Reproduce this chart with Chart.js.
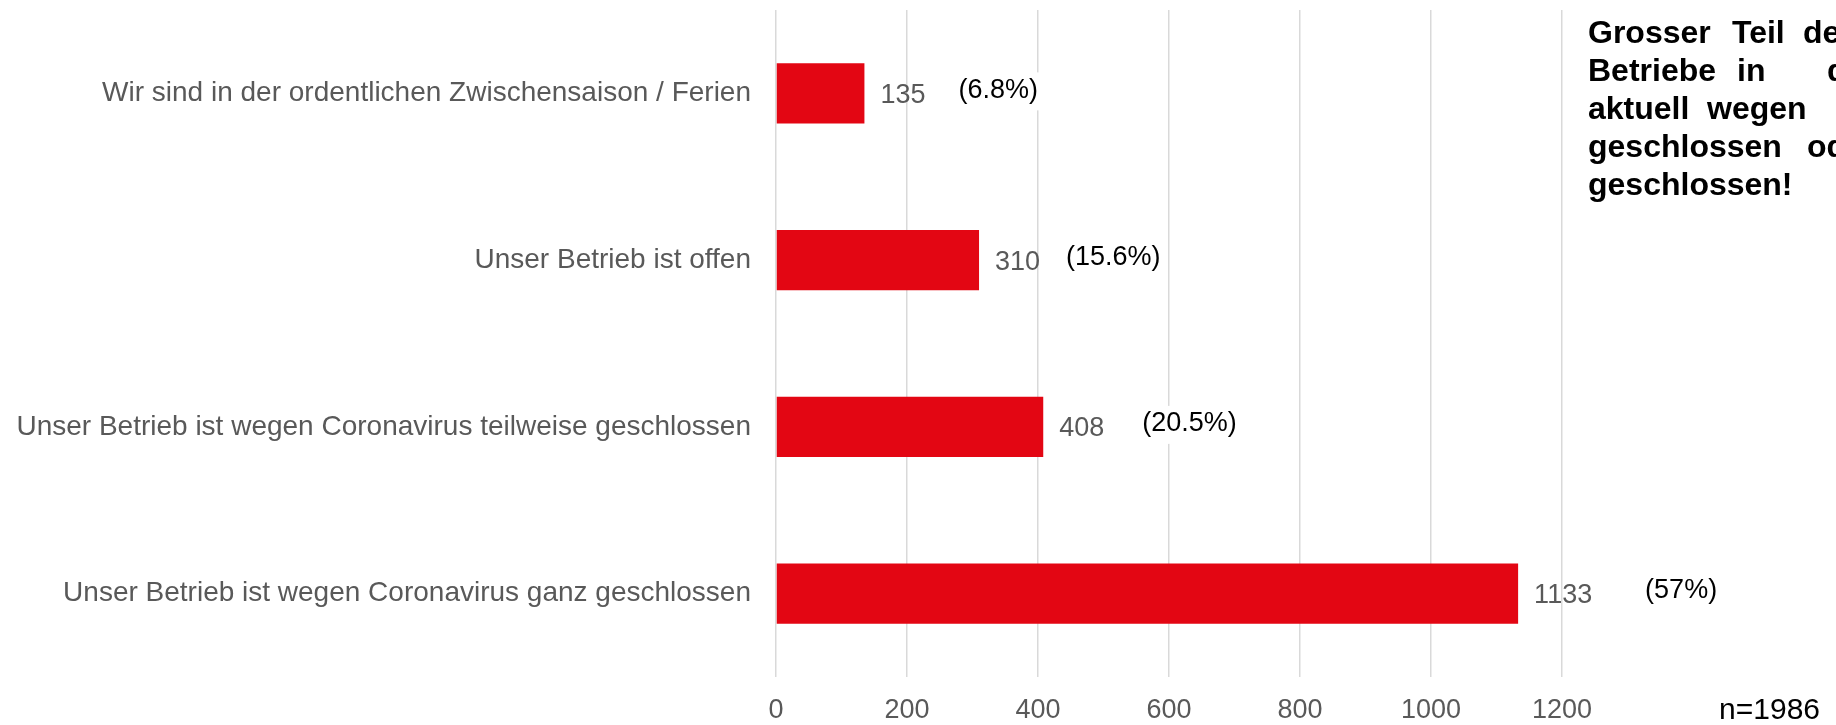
<!DOCTYPE html>
<html>
<head>
<meta charset="utf-8">
<script src="https://cdn.jsdelivr.net/npm/chart.js@4.4.1/dist/chart.umd.min.js"></script>
<style>
	html, body { margin: 0; padding: 0; background: #fff; }
	#wrap { width: 1836px; height: 725px; overflow: hidden; }
</style>
</head>
<body>
<div id="wrap"><canvas id="status_bar" width="1836" height="725"></canvas></div>
<script>
var categories = [
	'Wir sind in der ordentlichen Zwischensaison / Ferien',
	'Unser Betrieb ist offen',
	'Unser Betrieb ist wegen Coronavirus teilweise geschlossen',
	'Unser Betrieb ist wegen Coronavirus ganz geschlossen'
];
var counts = [135, 310, 408, 1133];
var shareLabels = ['(6.8%)', '(15.6%)', '(20.5%)', '(57%)'];
var xTicks = [0, 200, 400, 600, 800, 1000, 1200];
var sampleNote = 'n=1986';

// annotation text, clipped at the right edge like the original
var headline = [
	[['Grosser', 0], ['Teil', 144], ['der', 215]],
	[['Betriebe', 0], ['in', 149], ['der', 239]],
	[['aktuell', 0], ['wegen', 119], ['Corona', 262]],
	[['geschlossen', 0], ['oder', 219]],
	[['geschlossen!', 0]]
];

var FONT = "'Liberation Sans', Arial, sans-serif";

function renderStatusChart() {
	var ctx = document.getElementById('status_bar').getContext('2d');

	window.dashboardChart = new Chart(ctx, {
		type: 'bar',
		data: {
			labels: categories,
			datasets: [{
				data: counts,
				backgroundColor: '#e30613',
				borderWidth: 0,
				barPercentage: 0.36,
				categoryPercentage: 1
			}]
		},
		options: {
			indexAxis: 'y',
			responsive: false,
			animation: false,
			devicePixelRatio: 1,
			layout: { padding: { top: 10, right: 274, left: 0, bottom: 0 } },
			scales: {
				x: {
					min: 0,
					max: 1200,
					afterBuildTicks: function (scale) {
						scale.ticks = xTicks.map(function (v) { return { value: v }; });
					},
					afterFit: function (scale) {
						scale.height = 48;
						scale.paddingLeft = 0;
						scale.paddingRight = 0;
					},
					grid: { color: '#d9d9d9', lineWidth: 1.5, drawTicks: false },
					border: { display: false },
					ticks: {
						color: '#595959',
						padding: 17,
						maxRotation: 0,
						font: { family: FONT, size: 27 },
						callback: function (v) { return String(v); }
					}
				},
				y: {
					afterFit: function (scale) {
						scale.width = 776;
						scale.paddingTop = 0;
						scale.paddingBottom = 0;
					},
					grid: { display: false, drawTicks: false },
					border: { display: false },
					ticks: {
						color: '#595959',
						padding: 25,
						font: { family: FONT, size: 28 }
					}
				}
			},
			plugins: {
				legend: { display: false },
				tooltip: { enabled: false }
			}
		},
		plugins: [{
			id: 'barLabels',
			afterDatasetsDraw: function (chart) {
				var c = chart.ctx;
				var bars = chart.getDatasetMeta(0).data;
				// distance of each share label from its bar end, as placed in the source
				var shareGap = [94, 87, 99, 127];
				c.save();
				c.textBaseline = 'middle';
				c.textAlign = 'left';
				bars.forEach(function (bar, i) {
					c.font = '27px ' + FONT;
					c.fillStyle = '#595959';
					c.fillText(String(counts[i]), bar.x + 16, bar.y + 2);
					var px = bar.x + shareGap[i];
					var pw = c.measureText(shareLabels[i]).width;
					c.fillStyle = '#ffffff';
					c.fillRect(px - 4, bar.y - 21, pw + 8, 38);
					c.fillStyle = '#000000';
					c.fillText(shareLabels[i], px, bar.y - 3);
				});
				c.restore();
			}
		}, {
			id: 'notes',
			afterDraw: function (chart) {
				var c = chart.ctx;
				c.save();
				c.fillStyle = '#000000';
				c.textBaseline = 'alphabetic';
				c.font = 'bold 32px ' + FONT;
				headline.forEach(function (line, li) {
					line.forEach(function (w) {
						c.fillText(w[0], 1588 + w[1], 43 + li * 38);
					});
				});
				c.font = '30px ' + FONT;
				c.textAlign = 'right';
				c.fillText(sampleNote, 1820, 719);
				c.restore();
			}
		}]
	});
}

renderStatusChart();
</script>
</body>
</html>
